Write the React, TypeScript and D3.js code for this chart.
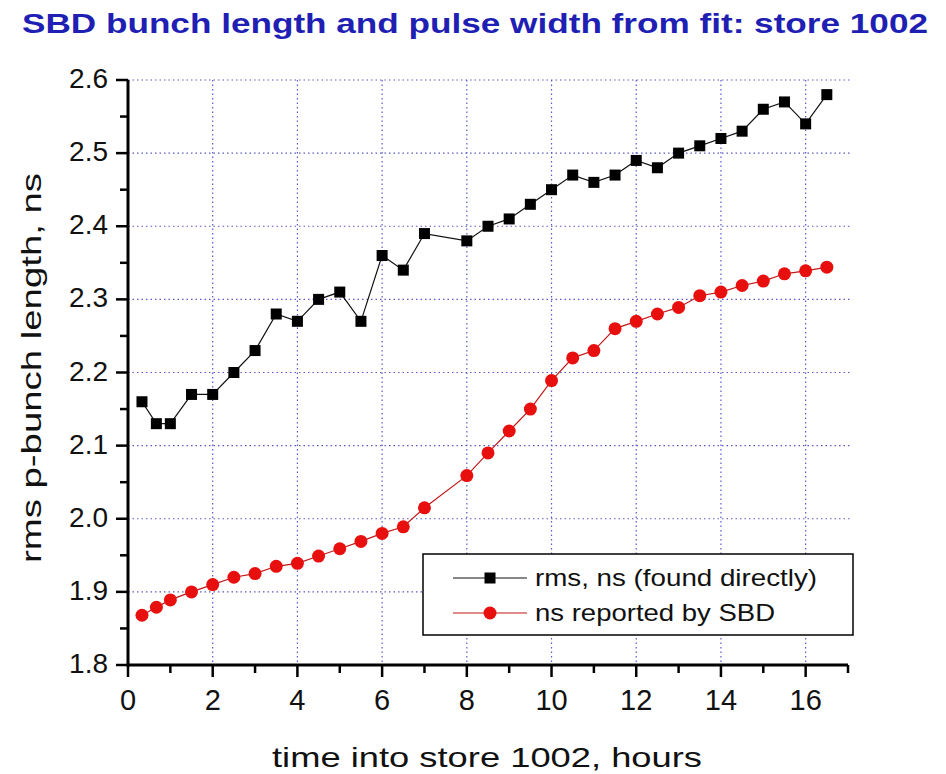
import React from "react";
import * as d3 from "d3";

const hoursRms = [0.33, 0.67, 1.0, 1.5, 2.0, 2.5, 3.0, 3.5, 4.0, 4.5, 5.0, 5.5, 6.0, 6.5, 7.0, 8.0, 8.5, 9.0, 9.5, 10.0, 10.5, 11.0, 11.5, 12.0, 12.5, 13.0, 13.5, 14.0, 14.5, 15.0, 15.5, 16.0, 16.5];
const rmsDirect = [2.16, 2.13, 2.13, 2.17, 2.17, 2.20, 2.23, 2.28, 2.27, 2.30, 2.31, 2.27, 2.36, 2.34, 2.39, 2.38, 2.40, 2.41, 2.43, 2.45, 2.47, 2.46, 2.47, 2.49, 2.48, 2.50, 2.51, 2.52, 2.53, 2.56, 2.57, 2.54, 2.58];

const hoursSbd = [0.33, 0.67, 1.0, 1.5, 2.0, 2.5, 3.0, 3.5, 4.0, 4.5, 5.0, 5.5, 6.0, 6.5, 7.0, 8.0, 8.5, 9.0, 9.5, 10.0, 10.5, 11.0, 11.5, 12.0, 12.5, 13.0, 13.5, 14.0, 14.5, 15.0, 15.5, 16.0, 16.5];
const sbdReported = [1.868, 1.879, 1.889, 1.900, 1.910, 1.920, 1.925, 1.935, 1.939, 1.949, 1.959, 1.969, 1.980, 1.989, 2.015, 2.059, 2.090, 2.120, 2.150, 2.189, 2.220, 2.230, 2.260, 2.270, 2.280, 2.289, 2.305, 2.310, 2.319, 2.325, 2.335, 2.339, 2.344];

const xTicks = [0, 2, 4, 6, 8, 10, 12, 14, 16];
const yTicks = [1.8, 1.9, 2.0, 2.1, 2.2, 2.3, 2.4, 2.5, 2.6];

const titleText = "SBD bunch length and pulse width from fit: store 1002";
const xLabel = "time into store 1002, hours";
const yLabel = "rms p-bunch length, ns";
const legendLabels = ["rms, ns (found directly)", "ns reported by SBD"];

const W = 946;
const H = 774;
const left = 128;
const right = 848;
const top = 80;
const bottom = 665;
const font = "'Liberation Sans', Arial, sans-serif";

export default function App() {
  const x = d3.scaleLinear().domain([0, 17]).range([left, right]);
  const y = d3.scaleLinear().domain([1.8, 2.6]).range([bottom, top]);

  const rmsPts = hoursRms.map((h, i) => [h, rmsDirect[i]] as [number, number]);
  const sbdPts = hoursSbd.map((h, i) => [h, sbdReported[i]] as [number, number]);
  const line = d3
    .line<[number, number]>()
    .x((d) => x(d[0]))
    .y((d) => y(d[1]));

  const xMinor = d3.range(0, 18, 1);
  const yMinor = d3.range(0, 17).map((i) => 1.8 + i * 0.05);
  const gridColor = "#5a5ac8";

  const sq = 11;

  return (
    <svg
      width={W}
      height={H}
      style={{ position: "absolute", left: 0, top: 0, background: "#fff" }}
    >
      <rect width={W} height={H} fill="#fff" />
      <text
        x={22}
        y={33}
        fontFamily={font}
        fontWeight="bold"
        fontSize={27}
        fill="#1f1fb4"
        textLength={906}
        lengthAdjust="spacingAndGlyphs"
      >
        {titleText}
      </text>

      {/* grid */}
      {xTicks.filter((t) => t > 0).map((t) => (
        <line
          key={"gx" + t}
          x1={x(t)}
          x2={x(t)}
          y1={top}
          y2={bottom}
          stroke={gridColor}
          strokeWidth={1.2}
          strokeDasharray="1.5 3"
        />
      ))}
      {yTicks.filter((t) => t > 1.8).map((t) => (
        <line
          key={"gy" + t}
          x1={left}
          x2={right + 2}
          y1={y(t)}
          y2={y(t)}
          stroke={gridColor}
          strokeWidth={1.2}
          strokeDasharray="1.5 3"
        />
      ))}

      {/* series lines */}
      <path d={line(rmsPts) || ""} fill="none" stroke="#111" strokeWidth={1.2} />
      <path d={line(sbdPts) || ""} fill="none" stroke="#c21818" strokeWidth={1.2} />
      {rmsPts.map((d, i) => (
        <rect
          key={"r" + i}
          x={x(d[0]) - sq / 2}
          y={y(d[1]) - sq / 2}
          width={sq}
          height={sq}
          fill="#000"
        />
      ))}
      {sbdPts.map((d, i) => (
        <circle key={"s" + i} cx={x(d[0])} cy={y(d[1])} r={6.5} fill="#e8100f" />
      ))}

      {/* axes */}
      <line x1={left} x2={left} y1={top} y2={bottom + 1.5} stroke="#000" strokeWidth={3} />
      <line x1={left - 1.5} x2={right} y1={bottom} y2={bottom} stroke="#000" strokeWidth={3} />
      {xMinor.map((t) => {
        const major = t % 2 === 0;
        return (
          <line
            key={"xt" + t}
            x1={x(t)}
            x2={x(t)}
            y1={bottom}
            y2={bottom + (major ? 12 : 8)}
            stroke="#000"
            strokeWidth={2.5}
          />
        );
      })}
      {yMinor.map((t, i) => {
        const major = i % 2 === 0;
        return (
          <line
            key={"yt" + i}
            x1={left}
            x2={left - (major ? 12 : 8)}
            y1={y(t)}
            y2={y(t)}
            stroke="#000"
            strokeWidth={2.5}
          />
        );
      })}
      {xTicks.map((t) => (
        <text
          key={"xl" + t}
          x={x(t)}
          y={710}
          textAnchor="middle"
          fontFamily={font}
          fontSize={29}
          fill="#111"
        >
          {t}
        </text>
      ))}
      {yTicks.map((t) => (
        <text
          key={"yl" + t}
          x={108}
          y={y(t) + 8}
          textAnchor="end"
          fontFamily={font}
          fontSize={28}
          fill="#111"
        >
          {t.toFixed(1)}
        </text>
      ))}

      <text
        x={487}
        y={767}
        textAnchor="middle"
        fontFamily={font}
        fontSize={28}
        fill="#111"
        textLength={430}
        lengthAdjust="spacingAndGlyphs"
      >
        {xLabel}
      </text>
      <text
        transform={`translate(41,${368}) rotate(-90)`}
        textAnchor="middle"
        fontFamily={font}
        fontSize={28}
        fill="#111"
        textLength={390}
        lengthAdjust="spacingAndGlyphs"
      >
        {yLabel}
      </text>

      {/* legend */}
      <rect x={423} y={554} width={430} height={81} fill="#fff" stroke="#000" strokeWidth={1.5} />
      <line x1={453} x2={527} y1={578} y2={578} stroke="#111" strokeWidth={1.2} />
      <rect x={490 - sq / 2} y={578 - sq / 2} width={sq} height={sq} fill="#000" />
      <line x1={453} x2={527} y1={613} y2={613} stroke="#c21818" strokeWidth={1.2} />
      <circle cx={490} cy={613} r={6.5} fill="#e8100f" />
      <text x={535} y={586} fontFamily={font} fontSize={24} fill="#111" textLength={282} lengthAdjust="spacingAndGlyphs">
        {legendLabels[0]}
      </text>
      <text x={535} y={621} fontFamily={font} fontSize={24} fill="#111" textLength={240} lengthAdjust="spacingAndGlyphs">
        {legendLabels[1]}
      </text>
    </svg>
  );
}
